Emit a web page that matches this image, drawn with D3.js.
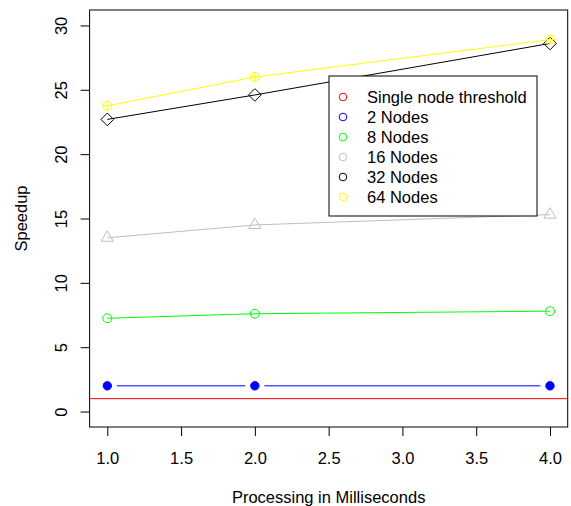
<!DOCTYPE html>
<html>
<head>
<meta charset="utf-8">
<script src="https://cdn.jsdelivr.net/npm/d3@7"></script>
<style>
  body { margin: 0; background: #fff; }
  text { font-family: "Liberation Sans", Arial, sans-serif; }
</style>
</head>
<body>
<div id="viz"></div>
<script>
// speedup per processing time, one array per node count
var xVals = [1, 2, 4];
var threshold = 1;
var nodes2 = [2, 2, 2];
var nodes8 = [7.25, 7.6, 7.8];
var nodes16 = [13.5, 14.5, 15.3];
var nodes32 = [22.7, 24.6, 28.6];
var nodes64 = [23.75, 26.0, 28.9];

var legendNames = ['Single node threshold', '2 Nodes', '8 Nodes', '16 Nodes', '32 Nodes', '64 Nodes'];
var legendColors = ['#ff0000', '#0000ff', '#00ff00', '#bebebe', '#000000', '#ffff00'];
var xTicks = [1.0, 1.5, 2.0, 2.5, 3.0, 3.5, 4.0];
var yTicks = [0, 5, 10, 15, 20, 25, 30];

var width = 571, height = 506,
    fontSize = 16.5,
    plot = { left: 89.6, right: 567.7, top: 10, bottom: 427 };

var svg = d3.select('#viz').append('svg')
    .attr('width', width)
    .attr('height', height);

// R pads the range by 4% on each side
var x = d3.scaleLinear().domain([0.88, 4.12]).range([plot.left, plot.right]);
var y = d3.scaleLinear().domain([-1.2, 31.2]).range([plot.bottom, plot.top]);

var xAxis = svg.append('g')
    .attr('transform', 'translate(0,' + plot.bottom + ')')
    .call(d3.axisBottom(x).tickValues(xTicks).tickSize(9).tickPadding(16)
      .tickFormat(d3.format('.1f')));
xAxis.select('.domain').remove();
xAxis.selectAll('text').attr('font-size', fontSize).attr('fill', '#000');
xAxis.selectAll('line').attr('stroke', '#000');

var yAxis = svg.append('g')
    .attr('transform', 'translate(' + plot.left + ',0)')
    .call(d3.axisLeft(y).tickValues(yTicks).tickSize(9));
yAxis.select('.domain').remove();
yAxis.selectAll('line').attr('stroke', '#000');
yAxis.selectAll('text')
    .attr('font-size', fontSize)
    .attr('fill', '#000')
    .attr('x', null)
    .attr('dy', null)
    .attr('text-anchor', 'middle')
    .attr('transform', 'translate(-22.5,0) rotate(-90)');

svg.append('rect')
    .attr('x', plot.left)
    .attr('y', plot.top)
    .attr('width', plot.right - plot.left)
    .attr('height', plot.bottom - plot.top)
    .attr('fill', 'none')
    .attr('stroke', '#000');

svg.append('text')
    .attr('x', (plot.left + plot.right) / 2)
    .attr('y', 503)
    .attr('text-anchor', 'middle')
    .attr('font-size', fontSize)
    .text('Processing in Milliseconds');

svg.append('text')
    .attr('transform', 'translate(27,' + ((plot.top + plot.bottom) / 2) + ') rotate(-90)')
    .attr('text-anchor', 'middle')
    .attr('font-size', fontSize)
    .text('Speedup');

// threshold line across the plot
svg.append('line')
    .attr('x1', plot.left)
    .attr('x2', plot.right)
    .attr('y1', y(threshold))
    .attr('y2', y(threshold))
    .attr('stroke', legendColors[0]);

var line = d3.line()
    .x(function(d, i) { return x(xVals[i]); })
    .y(function(d) { return y(d); });

// symbols like R's pch
function drawSymbol(g, pch, cx, cy, color) {
  var r = 4.5;
  if (pch === 1) {
    g.append('circle').attr('cx', cx).attr('cy', cy).attr('r', r)
      .attr('fill', 'none').attr('stroke', color);
  } else if (pch === 16) {
    g.append('circle').attr('cx', cx).attr('cy', cy).attr('r', 4.2)
      .attr('fill', color).attr('stroke', color);
  } else if (pch === 2) {
    var tr = r * 1.555, tyc = r * 0.778, txc = r * 1.347;
    g.append('path')
      .attr('d', 'M' + cx + ',' + (cy - tr) + 'L' + (cx + txc) + ',' + (cy + tyc) +
        'L' + (cx - txc) + ',' + (cy + tyc) + 'Z')
      .attr('fill', 'none').attr('stroke', color);
  } else if (pch === 5) {
    var dr = r * 1.414;
    g.append('path')
      .attr('d', 'M' + cx + ',' + (cy - dr) + 'L' + (cx + dr) + ',' + cy +
        'L' + cx + ',' + (cy + dr) + 'L' + (cx - dr) + ',' + cy + 'Z')
      .attr('fill', 'none').attr('stroke', color);
  } else if (pch === 10) {
    g.append('circle').attr('cx', cx).attr('cy', cy).attr('r', r)
      .attr('fill', 'none').attr('stroke', color);
    g.append('path')
      .attr('d', 'M' + (cx - r) + ',' + cy + 'H' + (cx + r) + 'M' + cx + ',' + (cy - r) + 'V' + (cy + r))
      .attr('stroke', color);
  }
}

// 2 nodes: type "b", line broken around the points
var g2 = svg.append('g');
var gap = 9.5;
for (var i = 0; i < xVals.length - 1; i++) {
  var x1 = x(xVals[i]), y1 = y(nodes2[i]), x2 = x(xVals[i + 1]), y2 = y(nodes2[i + 1]);
  var len = Math.sqrt((x2 - x1) * (x2 - x1) + (y2 - y1) * (y2 - y1));
  var ux = (x2 - x1) / len, uy = (y2 - y1) / len;
  g2.append('line')
    .attr('x1', x1 + ux * gap).attr('y1', y1 + uy * gap)
    .attr('x2', x2 - ux * gap).attr('y2', y2 - uy * gap)
    .attr('stroke', legendColors[1]);
}
nodes2.forEach(function(d, i) { drawSymbol(g2, 16, x(xVals[i]), y(d), legendColors[1]); });

// other series: type "o"
var series = [
  { values: nodes8, color: legendColors[2], pch: 1 },
  { values: nodes16, color: legendColors[3], pch: 2 },
  { values: nodes32, color: legendColors[4], pch: 5 },
  { values: nodes64, color: legendColors[5], pch: 10 }
];

series.forEach(function(s) {
  var g = svg.append('g');
  g.append('path')
    .datum(s.values)
    .attr('d', line)
    .attr('fill', 'none')
    .attr('stroke', s.color);
  s.values.forEach(function(d, i) {
    drawSymbol(g, s.pch, x(xVals[i]), y(d), s.color);
  });
});

// legend
var legend = svg.append('g').attr('transform', 'translate(329,76)');
legend.append('rect')
    .attr('width', 208)
    .attr('height', 140)
    .attr('fill', '#fff')
    .attr('stroke', '#000');

var items = legend.selectAll('g.item')
    .data(legendNames)
    .enter().append('g')
    .attr('class', 'item')
    .attr('transform', function(d, i) { return 'translate(0,' + (21 + i * 20) + ')'; });

items.append('circle')
    .attr('cx', 14)
    .attr('cy', 0)
    .attr('r', 3.8)
    .attr('fill', 'none')
    .attr('stroke', function(d, i) { return legendColors[i]; });

items.append('text')
    .attr('x', 38)
    .attr('y', 6)
    .attr('font-size', fontSize)
    .text(function(d) { return d; });
</script>
</body>
</html>
